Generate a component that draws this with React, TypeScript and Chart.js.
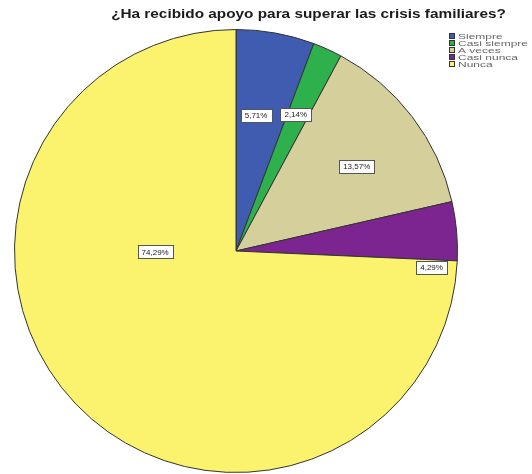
import React, { useEffect, useRef } from "react";
import { Chart, registerables } from "chart.js";

Chart.register(...registerables);

const TITLE = "¿Ha recibido apoyo para superar las crisis familiares?";
const categories = ["Siempre", "Casi siempre", "A veces", "Casi nunca", "Nunca"];
const percents = [5.71, 2.14, 13.57, 4.29, 74.29];
const colors = ["#3F5CB0", "#2EB04C", "#D4CF9B", "#7C2490", "#FBF36E"];
// label placement (angle clockwise from top in degrees, radius fraction)
const labelAngles = [8.4, 23.6, 54.9, 94.7, 269.3];
const labelRadii = [0.62, 0.674, 0.666, 0.886, 0.365];

const fmt = (v: number) => v.toFixed(2).replace(".", ",") + "%";

function stretchedText(ctx: CanvasRenderingContext2D, t: string, x: number, y: number, sx: number) {
  ctx.save();
  ctx.translate(x, y);
  ctx.scale(sx, 1);
  ctx.fillText(t, 0, 0);
  ctx.restore();
}

const overlay = {
  id: "overlay",
  afterDraw(chart: any) {
    const ctx = chart.ctx as CanvasRenderingContext2D;
    const meta = chart.getDatasetMeta(0);
    ctx.save();
    // labels
    ctx.font = "8px 'Liberation Sans', Arial, sans-serif";
    ctx.textAlign = "center";
    ctx.textBaseline = "middle";
    meta.data.forEach((arc: any, i: number) => {
      const r = arc.outerRadius * labelRadii[i];
      const a = (labelAngles[i] * Math.PI) / 180;
      const x = arc.x + Math.sin(a) * r;
      const y = arc.y - Math.cos(a) * r;
      const t = fmt(percents[i]);
      const w = ctx.measureText(t).width + 8;
      const h = 13;
      ctx.fillStyle = "#ffffff";
      ctx.fillRect(Math.round(x - w / 2) + 0.5, Math.round(y - h / 2) + 0.5, Math.round(w), h);
      ctx.strokeStyle = "#555555";
      ctx.lineWidth = 1;
      ctx.strokeRect(Math.round(x - w / 2) + 0.5, Math.round(y - h / 2) + 0.5, Math.round(w), h);
      ctx.fillStyle = "#222222";
      ctx.fillText(t, x, y + 0.5);
    });
    // title
    ctx.font = "bold 13px 'Liberation Sans', Arial, sans-serif";
    ctx.fillStyle = "#1a1a1a";
    ctx.textAlign = "center";
    stretchedText(ctx, TITLE, 308.5, 14, 1.18);
    // legend
    ctx.font = "7.5px 'Liberation Sans', Arial, sans-serif";
    ctx.textAlign = "left";
    categories.forEach((c, i) => {
      const y = 33 + i * 7;
      ctx.fillStyle = colors[i];
      ctx.fillRect(449, y, 6, 6);
      ctx.strokeStyle = "#333333";
      ctx.strokeRect(449.5, y + 0.5, 5, 5);
      ctx.fillStyle = "#666666";
      stretchedText(ctx, c, 458, y + 3.5, 1.6);
    });
    ctx.restore();
  },
};

export default function App() {
  const ref = useRef<HTMLCanvasElement>(null);
  useEffect(() => {
    const chart = new Chart(ref.current!, {
      type: "pie",
      data: {
        labels: categories,
        datasets: [
          {
            data: percents,
            backgroundColor: colors,
            borderColor: "#333333",
            borderWidth: 1,
          },
        ],
      },
      options: {
        responsive: false,
        animation: false,
        layout: { padding: { left: 14, right: 74, top: 29, bottom: 1 } },
        plugins: {
          legend: { display: false },
          title: { display: false },
          tooltip: { enabled: false },
        },
      },
      plugins: [overlay],
    });
    return () => chart.destroy();
  }, []);
  return (
    <div style={{ position: "absolute", left: 0, top: 0, width: 532, height: 474, background: "#fff" }}>
      <canvas ref={ref} width={532} height={474} />
    </div>
  );
}
